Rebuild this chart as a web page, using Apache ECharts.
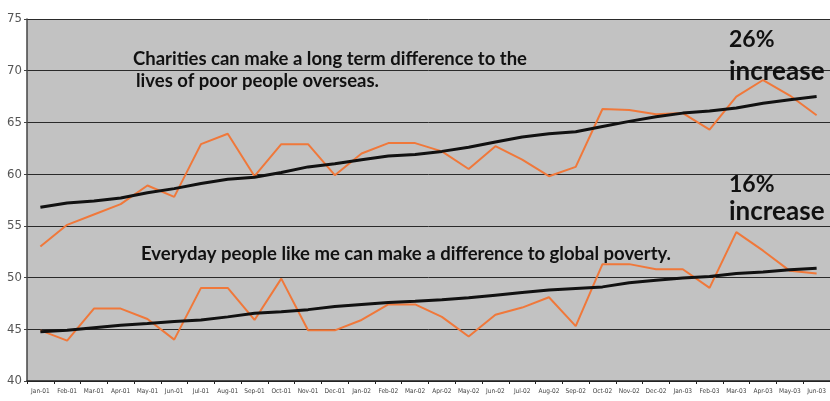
<!DOCTYPE html>
<html>
<head>
<meta charset="utf-8">
<script src="https://cdn.jsdelivr.net/npm/echarts@6/dist/echarts.min.js"></script>
<style>html,body{margin:0;padding:0;background:#fff;}#c{width:830px;height:401px;}</style>
</head>
<body>
<div id="c"></div>
<script>
const categories = ['Jan-01','Feb-01','Mar-01','Apr-01','May-01','Jun-01','Jul-01','Aug-01','Sep-01','Oct-01','Nov-01','Dec-01',
  'Jan-02','Feb-02','Mar-02','Apr-02','May-02','Jun-02','Jul-02','Aug-02','Sep-02','Oct-02','Nov-02','Dec-02',
  'Jan-03','Feb-03','Mar-03','Apr-03','May-03','Jun-03'];
const charities = [53.0,55.1,56.1,57.1,58.9,57.8,62.9,63.9,59.8,62.9,62.9,59.9,62.0,63.0,63.0,62.2,60.5,62.7,61.4,59.8,60.7,66.3,66.2,65.8,65.9,64.3,67.5,69.1,67.6,65.7];
const charitiesTrend = [56.8,57.2,57.4,57.7,58.2,58.6,59.1,59.5,59.7,60.15,60.7,61.0,61.4,61.75,61.9,62.2,62.6,63.1,63.6,63.9,64.1,64.6,65.1,65.55,65.9,66.1,66.4,66.85,67.2,67.5];
const everyday = [44.9,43.9,47.0,47.0,46.0,44.0,49.0,49.0,45.9,49.9,44.9,44.9,45.9,47.4,47.4,46.2,44.3,46.4,47.1,48.1,45.3,51.3,51.3,50.8,50.8,49.0,54.4,52.6,50.65,50.4];
const everydayTrend = [44.75,44.9,45.15,45.4,45.55,45.75,45.9,46.2,46.55,46.7,46.9,47.2,47.4,47.6,47.7,47.85,48.05,48.3,48.55,48.8,48.95,49.1,49.5,49.75,49.95,50.1,50.4,50.55,50.75,50.9];
const yTicks = {min: 40, max: 75, interval: 5};

const chart = echarts.init(document.getElementById('c'), null, {renderer: 'canvas'});
const orange = '#f0783a';
const txtFont = 'Lato, "Open Sans", sans-serif';
function label(text, x, y, size) {
  return {type: 'text', x: x, y: y, z: 10, style: {text: text, font: 'bold ' + size + 'px ' + txtFont, fill: '#111', verticalAlign: 'middle', align: 'left'}};
}
chart.setOption({
  animation: false,
  backgroundColor: '#ffffff',
  grid: {left: 27, right: 0, top: 19, bottom: 20, show: true, backgroundColor: '#c2c2c2', borderWidth: 0},
  xAxis: {
    type: 'category', data: categories, boundaryGap: true,
    axisLine: {show: true, lineStyle: {color: '#222', width: 1.5}},
    axisTick: {show: true, length: 3, lineStyle: {color: '#222'}},
    axisLabel: {interval: 0, fontSize: 6.5, color: '#444', margin: 7, fontFamily: '"DejaVu Sans Condensed", "Liberation Sans Narrow", sans-serif'},
    splitLine: {show: false}
  },
  yAxis: {
    type: 'value', min: yTicks.min, max: yTicks.max, interval: yTicks.interval,
    axisLine: {show: true, lineStyle: {color: '#444', width: 1.5}},
    axisTick: {show: true, length: 3, lineStyle: {color: '#444'}},
    axisLabel: {fontSize: 13, color: '#555', margin: 5, fontFamily: '"Liberation Sans Narrow", "DejaVu Sans Condensed", sans-serif'},
    splitLine: {show: true, lineStyle: {color: '#2a2a2a', width: 1}}
  },
  series: [
    {name: 'Charities', type: 'line', data: charities, symbol: 'none', lineStyle: {color: orange, width: 2}, z: 3},
    {name: 'Charities trend', type: 'line', data: charitiesTrend, symbol: 'none', lineStyle: {color: '#111', width: 3}, z: 4},
    {name: 'Everyday', type: 'line', data: everyday, symbol: 'none', lineStyle: {color: orange, width: 2}, z: 3},
    {name: 'Everyday trend', type: 'line', data: everydayTrend, symbol: 'none', lineStyle: {color: '#111', width: 3}, z: 4}
  ],
  graphic: [
    label('Charities can make a long term difference to the', 133, 59, 18.5),
    label('lives of poor people overseas.', 136, 81, 18.5),
    label('Everyday people like me can make a difference to global poverty.', 141, 254, 18.5),
    label('26%', 729, 40, 23),
    label('increase', 729, 72, 26),
    label('16%', 729, 185, 23),
    label('increase', 729, 212, 26)
  ]
});
</script>
</body>
</html>
